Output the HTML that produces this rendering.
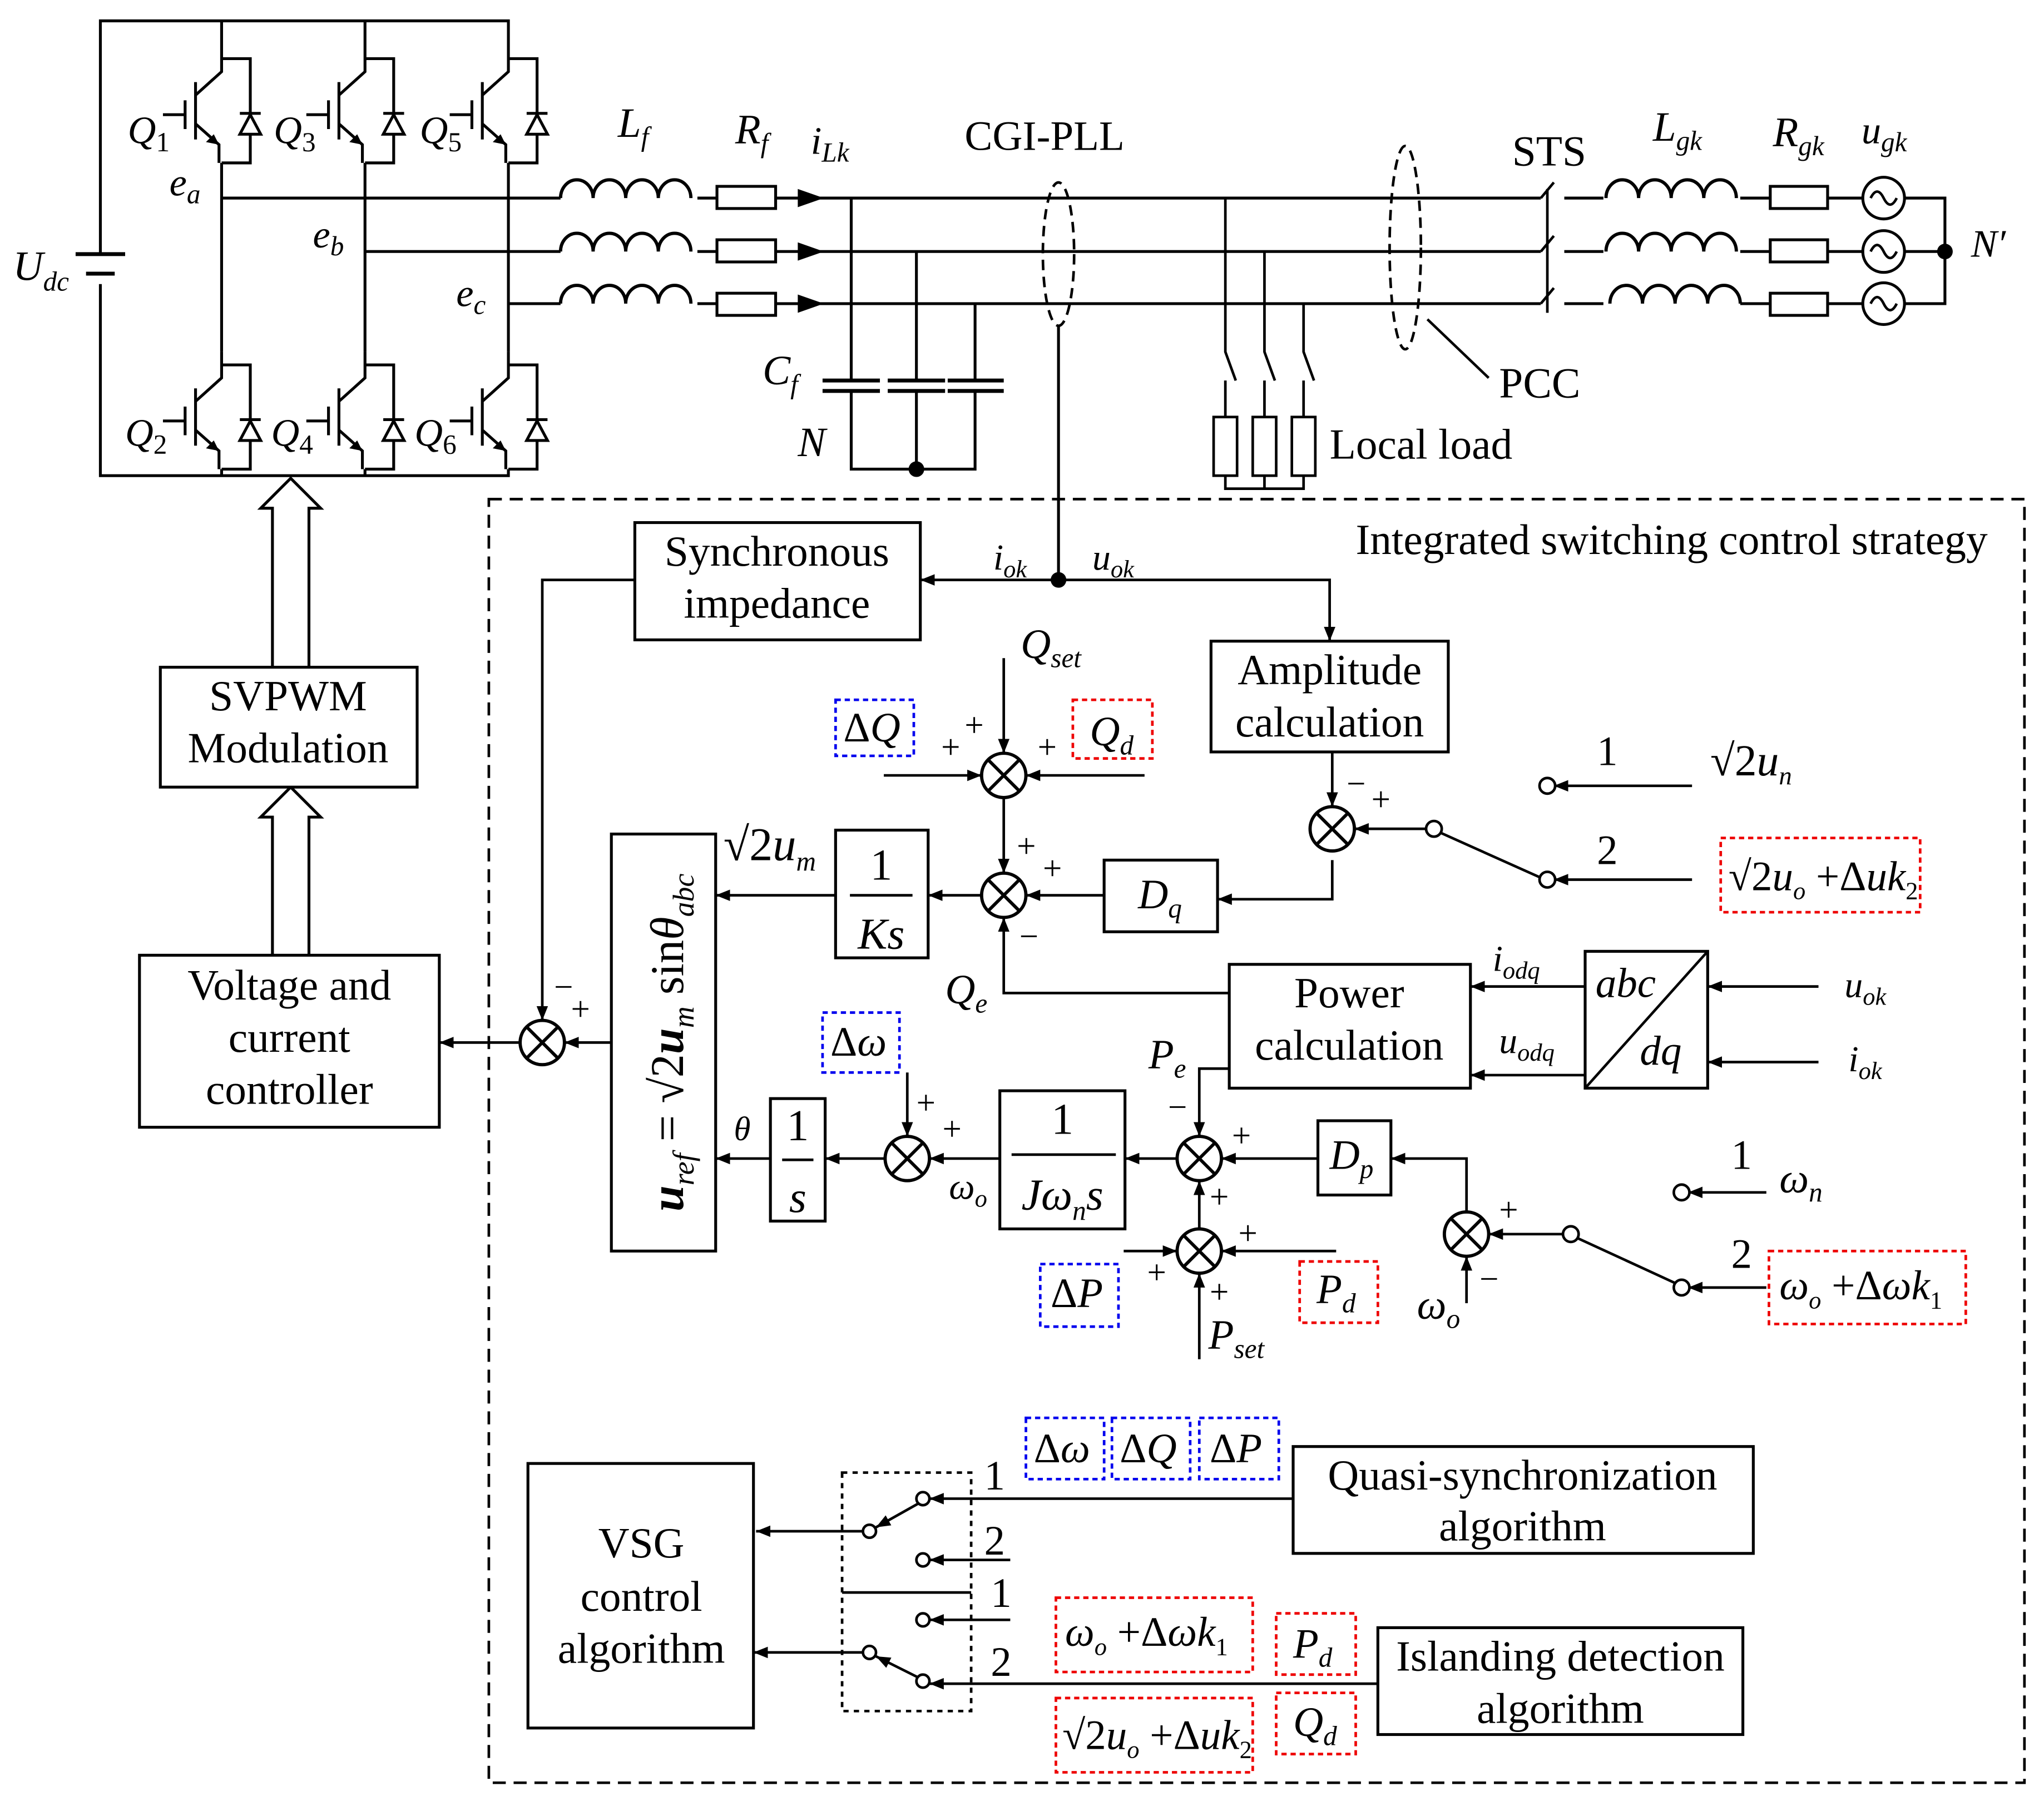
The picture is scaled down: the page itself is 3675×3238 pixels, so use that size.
<!DOCTYPE html>
<html><head><meta charset="utf-8"><style>
html,body{margin:0;padding:0;background:#fff;}
svg{display:block;}
text{font-family:"Liberation Serif",serif;fill:#000;}
.i{font-style:italic;}
</style></head><body>
<svg width="3675" height="3238" viewBox="0 0 1568 1382" preserveAspectRatio="none" xmlns="http://www.w3.org/2000/svg">
<defs>
<marker id="b" viewBox="0 0 10 10" refX="10" refY="5" markerWidth="11" markerHeight="11" orient="auto" markerUnits="userSpaceOnUse"><path d="M0,1 L10,5 L0,9z" fill="#000"/></marker>
<g id="sum"><circle cx="0" cy="0" r="17" fill="#fff" stroke="#000" stroke-width="2.5"/><path d="M-12,-12 L12,12 M-12,12 L12,-12" stroke="#000" stroke-width="2.5"/></g>
<g id="sw" fill="none" stroke="#000" stroke-width="2.2">
<path d="M0,0 V20 L-20,38 M-20,28 V72 M-28,42 V64 M-45,53 H-28 M-20,60 L-2,76 V90 M0,10 H22 V90 H0"/>
<path d="M14,52 H30" /><polygon points="14,68 30,68 22,53" fill="#fff"/>
<polygon points="-2,76 -12,74 -6,68" fill="#000" stroke="none"/>
</g>
<path id="ind" d="M0,0 a12.5,14 0 0 1 25,0 a12.5,14 0 0 1 25,0 a12.5,14 0 0 1 25,0 a12.5,14 0 0 1 25,0" fill="none" stroke="#000" stroke-width="2.5"/>
</defs>
<g fill="none" stroke="#000" stroke-width="2.2">
<path d="M77,195 V16 H390 V35 M170,16 V35 M280,16 V35"/>
<path d="M77,218 V365 H390 V360 M170,365 V360 M280,365 V360"/>
<path d="M58,195 H96 M66,210 H88" stroke-width="3"/>
<path d="M170,125 V270 M280,125 V270 M390,125 V270"/>
</g>
<use href="#sw" x="170" y="35"/><use href="#sw" x="280" y="35"/><use href="#sw" x="390" y="35"/>
<use href="#sw" x="170" y="270"/><use href="#sw" x="280" y="270"/><use href="#sw" x="390" y="270"/>
<text x="10" y="215" font-size="32" class="i">U<tspan font-size="21" dy="8">dc</tspan></text>
<text x="98" y="110" font-size="30" class="i">Q<tspan font-size="21" dy="6" font-style="normal">1</tspan></text>
<text x="210" y="110" font-size="30" class="i">Q<tspan font-size="21" dy="6" font-style="normal">3</tspan></text>
<text x="322" y="110" font-size="30" class="i">Q<tspan font-size="21" dy="6" font-style="normal">5</tspan></text>
<text x="96" y="342" font-size="30" class="i">Q<tspan font-size="21" dy="6" font-style="normal">2</tspan></text>
<text x="208" y="342" font-size="30" class="i">Q<tspan font-size="21" dy="6" font-style="normal">4</tspan></text>
<text x="318" y="342" font-size="30" class="i">Q<tspan font-size="21" dy="6" font-style="normal">6</tspan></text>
<text x="130" y="150" font-size="30" class="i">e<tspan font-size="21" dy="6">a</tspan></text>
<text x="240" y="190" font-size="30" class="i">e<tspan font-size="21" dy="6">b</tspan></text>
<text x="350" y="235" font-size="30" class="i">e<tspan font-size="21" dy="6">c</tspan></text>
<g fill="none" stroke="#000" stroke-width="2.2">
<path d="M170,152 H430 M535,152 H550 M595,152 H1182"/>
<path d="M280,193 H430 M535,193 H550 M595,193 H1182"/>
<path d="M390,233 H430 M535,233 H550 M595,233 H1182"/>
<path d="M1200,152 H1230 M1335,152 H1358 M1402,152 H1429 M1461,152 H1492 V233 H1461"/>
<path d="M1200,193 H1230 M1335,193 H1358 M1402,193 H1429 M1461,193 H1492"/>
<path d="M1200,233 H1230 M1335,233 H1358 M1402,233 H1429"/>
</g>
<use href="#ind" x="430" y="152"/><use href="#ind" x="430" y="193"/><use href="#ind" x="430" y="233"/>
<use href="#ind" x="1232" y="152"/><use href="#ind" x="1232" y="193"/><use href="#ind" x="1235" y="233"/>
<g fill="#fff" stroke="#000" stroke-width="2.2">
<rect x="550" y="143" width="45" height="17"/><rect x="550" y="184" width="45" height="17"/><rect x="550" y="225" width="45" height="17"/>
<rect x="1358" y="143" width="44" height="17"/><rect x="1358" y="184" width="44" height="17"/><rect x="1358" y="225" width="44" height="17"/>
<circle cx="1445" cy="152" r="16"/><circle cx="1445" cy="193" r="16"/><circle cx="1445" cy="233" r="16"/>
</g>
<g fill="none" stroke="#000" stroke-width="2">
<path d="M1435,152 q5,-10 10,0 q5,10 10,0 M1435,193 q5,-10 10,0 q5,10 10,0 M1435,233 q5,-10 10,0 q5,10 10,0"/>
</g>
<g fill="#000"><polygon points="612,145 632,152 612,159"/><polygon points="612,186 632,193 612,200"/><polygon points="612,226 632,233 612,240"/>
<circle cx="1492" cy="193" r="6"/><circle cx="703" cy="360" r="6"/><circle cx="812" cy="445" r="6"/></g>
<g fill="none" stroke="#000" stroke-width="2"><path d="M1182,152 L1192,140 M1182,193 L1192,181 M1182,233 L1192,221 M1187,145 V240"/></g>
<g fill="none" stroke="#000" stroke-width="2.2">
<path d="M653,152 V292 M653,300 V360 H748 V300 M703,193 V292 M703,300 V360 M748,233 V292"/>
<path d="M631,292 H675 M631,300 H675 M681,292 H725 M681,300 H725 M727,292 H770 M727,300 H770" stroke-width="3"/>
</g>
<text x="585" y="295" font-size="32" class="i">C<tspan font-size="21" dy="7">f</tspan></text>
<text x="612" y="350" font-size="32" class="i">N</text>
<ellipse cx="812" cy="195" rx="12" ry="55" fill="none" stroke="#000" stroke-width="2" stroke-dasharray="8,5"/>
<path d="M812,250 V445" stroke="#000" stroke-width="2.2"/>
<text x="740" y="115" font-size="32">CGI-PLL</text>
<g fill="none" stroke="#000" stroke-width="2">
<path d="M940,152 V270 L948,292 M940,292 V320 M940,365 V375 H1000 V365"/>
<path d="M970,193 V270 L978,292 M970,292 V320 M970,365 V375"/>
<path d="M1000,233 V270 L1008,292 M1000,292 V320"/>
<rect x="931" y="320" width="18" height="45" fill="#fff"/><rect x="961" y="320" width="18" height="45" fill="#fff"/><rect x="991" y="320" width="18" height="45" fill="#fff"/>
</g>
<text x="1020" y="352" font-size="33">Local load</text>
<ellipse cx="1078" cy="190" rx="12" ry="78" fill="none" stroke="#000" stroke-width="2" stroke-dasharray="8,5"/>
<path d="M1095,245 L1142,290" stroke="#000" stroke-width="2"/>
<text x="1150" y="305" font-size="33">PCC</text>
<text x="1160" y="127" font-size="33">STS</text>
<text x="474" y="105" font-size="32" class="i">L<tspan font-size="21" dy="7">f</tspan></text>
<text x="564" y="110" font-size="32" class="i">R<tspan font-size="21" dy="7">f</tspan></text>
<text x="622" y="118" font-size="30" class="i">i<tspan font-size="21" dy="6">Lk</tspan></text>
<text x="1268" y="108" font-size="32" class="i">L<tspan font-size="21" dy="7">gk</tspan></text>
<text x="1360" y="112" font-size="32" class="i">R<tspan font-size="21" dy="7">gk</tspan></text>
<text x="1428" y="110" font-size="30" class="i">u<tspan font-size="21" dy="6">gk</tspan></text>
<text x="1512" y="197" font-size="30" class="i">N′</text>
<g fill="#fff" stroke="#000" stroke-width="2.2">
<path d="M209,512 V390 H200 L223,367 L246,390 H237 V512"/>
<path d="M209,733 V627 H200 L223,604 L246,627 H237 V733"/>
</g>
<rect x="375" y="383" width="1178" height="985" fill="none" stroke="#000" stroke-width="2" stroke-dasharray="10,6"/>
<text x="1040" y="425" font-size="33">Integrated switching control strategy</text>
<g fill="#fff" stroke="#000" stroke-width="2.2">
<rect x="123" y="512" width="197" height="92"/>
<rect x="107" y="733" width="230" height="132"/>
<rect x="487" y="401" width="219" height="90"/>
<rect x="929" y="492" width="182" height="85"/>
<rect x="469" y="640" width="80" height="320"/>
<rect x="641" y="637" width="71" height="98"/>
<rect x="847" y="660" width="87" height="55"/>
<rect x="943" y="740" width="185" height="95"/>
<rect x="1216" y="730" width="94" height="105"/>
<rect x="591" y="843" width="42" height="94"/>
<rect x="767" y="837" width="96" height="106"/>
<rect x="1011" y="860" width="56" height="57"/>
<rect x="405" y="1123" width="173" height="203"/>
<rect x="992" y="1110" width="353" height="82"/>
<rect x="1057" y="1249" width="280" height="82"/>
</g>
<path d="M1216,835 L1310,730" stroke="#000" stroke-width="2"/>
<g font-size="33" text-anchor="middle">
<text x="221" y="545">SVPWM</text><text x="221" y="585">Modulation</text>
<text x="222" y="767">Voltage and</text><text x="222" y="807">current</text><text x="222" y="847">controller</text>
<text x="596" y="434">Synchronous</text><text x="596" y="474">impedance</text>
<text x="1020" y="525">Amplitude</text><text x="1020" y="565">calculation</text>
<text x="1035" y="773">Power</text><text x="1035" y="813">calculation</text>
<text x="492" y="1195">VSG</text><text x="492" y="1236">control</text><text x="492" y="1276">algorithm</text>
<text x="1168" y="1143">Quasi-synchronization</text><text x="1168" y="1182">algorithm</text>
<text x="1197" y="1282">Islanding detection</text><text x="1197" y="1322">algorithm</text>
</g>
<text x="1224" y="765" font-size="32" class="i">abc</text>
<text x="1258" y="817" font-size="32" class="i">dq</text>
<g stroke="#000" stroke-width="2"><path d="M652,687 H700 M600,890 H624 M776,886 H856"/></g>
<text x="676" y="675" font-size="34" text-anchor="middle">1</text>
<text x="676" y="728" font-size="34" text-anchor="middle" class="i">Ks</text>
<text x="612" y="875" font-size="34" text-anchor="middle">1</text>
<text x="612" y="930" font-size="34" text-anchor="middle" class="i">s</text>
<text x="815" y="870" font-size="34" text-anchor="middle">1</text>
<text x="815" y="928" font-size="34" text-anchor="middle" class="i">Jω<tspan font-size="21" dy="8">n</tspan><tspan dy="-8">s</tspan></text>
<text x="1020" y="897" font-size="32" class="i">D<tspan font-size="21" dy="7">p</tspan></text>
<text x="873" y="697" font-size="32" class="i">D<tspan font-size="21" dy="7">q</tspan></text>
<text transform="translate(524,800) rotate(-90)" font-size="36" text-anchor="middle"><tspan class="i" font-weight="bold">u</tspan><tspan font-size="23" dy="8" class="i">ref</tspan><tspan dy="-8"> = √2</tspan><tspan class="i" font-weight="bold">u</tspan><tspan font-size="23" dy="8" class="i">m</tspan><tspan dy="-8"> sin</tspan><tspan class="i">θ</tspan><tspan font-size="23" dy="8" class="i">abc</tspan></text>
<use href="#sum" x="416" y="800"/><use href="#sum" x="770" y="595"/><use href="#sum" x="770" y="687"/>
<use href="#sum" x="1022" y="636"/><use href="#sum" x="696" y="889"/><use href="#sum" x="920" y="889"/>
<use href="#sum" x="920" y="960"/><use href="#sum" x="1125" y="947"/>
<g fill="none" stroke="#000" stroke-width="2" marker-end="url(#b)">
<path d="M812,445 H706"/>
<path d="M812,445 H1020 V492"/>
<path d="M487,445 H416 V783"/>
<path d="M469,800 H433"/>
<path d="M399,800 H337"/>
<path d="M641,687 H549"/>
<path d="M753,687 H712"/>
<path d="M770,612 V670"/>
<path d="M770,505 V578"/>
<path d="M678,595 H753"/>
<path d="M878,595 H787"/>
<path d="M847,687 H787"/>
<path d="M1022,660 V690 H934"/>
<path d="M1022,577 V619"/>
<path d="M1100,636 H1039"/>
<path d="M1298,603 H1192"/>
<path d="M1298,675 H1192"/>
<path d="M943,762 H770 V704"/>
<path d="M1216,757 H1128"/>
<path d="M1216,825 H1128"/>
<path d="M1395,757 H1310"/>
<path d="M1395,815 H1310"/>
<path d="M943,820 H920 V872"/>
<path d="M920,943 V906"/>
<path d="M903,889 H863"/>
<path d="M767,889 H713"/>
<path d="M679,889 H633"/>
<path d="M591,889 H549"/>
<path d="M696,823 V872"/>
<path d="M1011,889 H937"/>
<path d="M1125,930 V889 H1067"/>
<path d="M1205,947 H1142"/>
<path d="M1125,1000 V964"/>
<path d="M862,960 H903"/>
<path d="M1025,960 H937"/>
<path d="M920,1043 V977"/>
<path d="M1355,915 H1295"/>
<path d="M1355,988 H1295"/>
<path d="M992,1150 H713"/>
<path d="M775,1197 H713"/>
<path d="M775,1243 H713"/>
<path d="M1057,1292 H713"/>
<path d="M662,1175 H580"/>
<path d="M662,1268 H578"/>
<path d="M704,1154 L672,1172"/>
<path d="M704,1287 L672,1271"/>
</g>
<g fill="none" stroke="#000" stroke-width="2">
<path d="M1105,639 L1183,674 M1210,950 L1286,985"/>
<path d="M646,1222 H745"/>
</g>
<rect x="646" y="1130" width="99" height="183" fill="none" stroke="#000" stroke-width="2" stroke-dasharray="4,4"/>
<g fill="#fff" stroke="#000" stroke-width="2">
<circle cx="1100" cy="636" r="6"/><circle cx="1187" cy="603" r="6"/><circle cx="1187" cy="675" r="6"/>
<circle cx="1205" cy="947" r="6"/><circle cx="1290" cy="915" r="6"/><circle cx="1290" cy="988" r="6"/>
<circle cx="708" cy="1150" r="5"/><circle cx="667" cy="1175" r="5"/><circle cx="708" cy="1197" r="5"/>
<circle cx="708" cy="1243" r="5"/><circle cx="708" cy="1290" r="5"/><circle cx="667" cy="1268" r="5"/>
</g>
<g fill="none" stroke-width="2" stroke-dasharray="4,3">
<rect x="641" y="537" width="60" height="43" stroke="#0000ee"/>
<rect x="823" y="537" width="61" height="45" stroke="#ee0000"/>
<rect x="1320" y="643" width="153" height="57" stroke="#ee0000"/>
<rect x="631" y="777" width="59" height="46" stroke="#0000ee"/>
<rect x="798" y="970" width="60" height="48" stroke="#0000ee"/>
<rect x="997" y="968" width="60" height="47" stroke="#ee0000"/>
<rect x="1357" y="960" width="151" height="56" stroke="#ee0000"/>
<rect x="787" y="1088" width="60" height="47" stroke="#0000ee"/>
<rect x="853" y="1088" width="60" height="47" stroke="#0000ee"/>
<rect x="920" y="1088" width="61" height="47" stroke="#0000ee"/>
<rect x="810" y="1226" width="151" height="57" stroke="#ee0000"/>
<rect x="979" y="1238" width="61" height="47" stroke="#ee0000"/>
<rect x="810" y="1303" width="151" height="57" stroke="#ee0000"/>
<rect x="979" y="1299" width="61" height="47" stroke="#ee0000"/>
</g>
<g font-size="32">
<text x="647" y="569">Δ<tspan class="i">Q</tspan></text>
<text x="836" y="572" class="i">Q<tspan font-size="21" dy="7">d</tspan></text>
<text x="1326" y="683">√2<tspan class="i">u</tspan><tspan font-size="19" dy="7" class="i">o</tspan><tspan dy="-7"> +Δ</tspan><tspan class="i">uk</tspan><tspan font-size="19" dy="7">2</tspan></text>
<text x="1312" y="595" font-size="34">√2<tspan class="i">u</tspan><tspan font-size="20" dy="7" class="i">n</tspan></text>
<text x="1225" y="587">1</text><text x="1225" y="663">2</text>
<text x="637" y="810">Δ<tspan class="i">ω</tspan></text>
<text x="806" y="1003">Δ<tspan class="i">P</tspan></text>
<text x="1010" y="1000" class="i">P<tspan font-size="21" dy="7">d</tspan></text>
<text x="1365" y="997"><tspan class="i">ω</tspan><tspan font-size="19" dy="7" class="i">o</tspan><tspan dy="-7"> +Δ</tspan><tspan class="i">ωk</tspan><tspan font-size="19" dy="7">1</tspan></text>
<text x="1328" y="897">1</text><text x="1328" y="973">2</text>
<text x="1365" y="915" class="i">ω<tspan font-size="21" dy="7">n</tspan></text>
<text x="793" y="1122">Δ<tspan class="i">ω</tspan></text>
<text x="859" y="1122">Δ<tspan class="i">Q</tspan></text>
<text x="928" y="1122">Δ<tspan class="i">P</tspan></text>
<text x="817" y="1263"><tspan class="i">ω</tspan><tspan font-size="19" dy="7" class="i">o</tspan><tspan dy="-7"> +Δ</tspan><tspan class="i">ωk</tspan><tspan font-size="19" dy="7">1</tspan></text>
<text x="992" y="1272" class="i">P<tspan font-size="21" dy="7">d</tspan></text>
<text x="815" y="1342">√2<tspan class="i">u</tspan><tspan font-size="19" dy="7" class="i">o</tspan><tspan dy="-7"> +Δ</tspan><tspan class="i">uk</tspan><tspan font-size="19" dy="7">2</tspan></text>
<text x="992" y="1332" class="i">Q<tspan font-size="21" dy="7">d</tspan></text>
<text x="755" y="1143">1</text><text x="755" y="1193">2</text><text x="760" y="1233">1</text><text x="760" y="1286">2</text>
<text x="555" y="660" font-size="36">√2<tspan class="i">u</tspan><tspan font-size="21" dy="8" class="i">m</tspan></text>
<text x="783" y="505" class="i">Q<tspan font-size="21" dy="7">set</tspan></text>
<text x="725" y="770" class="i">Q<tspan font-size="21" dy="7">e</tspan></text>
<text x="881" y="820" class="i">P<tspan font-size="21" dy="7">e</tspan></text>
<text x="927" y="1035" class="i">P<tspan font-size="21" dy="7">set</tspan></text>
<text x="1087" y="1012" class="i">ω<tspan font-size="21" dy="7">o</tspan></text>
<text x="728" y="920" font-size="28" class="i">ω<tspan font-size="19" dy="6">o</tspan></text>
<text x="563" y="875" font-size="26" class="i">θ</text>
<text x="762" y="437" font-size="28" class="i">i<tspan font-size="19" dy="6">ok</tspan></text>
<text x="838" y="437" font-size="28" class="i">u<tspan font-size="19" dy="6">ok</tspan></text>
<text x="1145" y="745" font-size="28" class="i">i<tspan font-size="19" dy="6">odq</tspan></text>
<text x="1150" y="808" font-size="28" class="i">u<tspan font-size="19" dy="6">odq</tspan></text>
<text x="1415" y="765" font-size="28" class="i">u<tspan font-size="19" dy="6">ok</tspan></text>
<text x="1418" y="822" font-size="28" class="i">i<tspan font-size="19" dy="6">ok</tspan></text>
</g>
<g font-size="26">
<text x="740" y="565">+</text><text x="722" y="582">+</text><text x="796" y="582">+</text>
<text x="780" y="658">+</text><text x="800" y="675">+</text><text x="782" y="727">−</text>
<text x="1033" y="610">−</text><text x="1052" y="622">+</text>
<text x="425" y="766">−</text><text x="438" y="783">+</text>
<text x="703" y="855">+</text><text x="723" y="875">+</text>
<text x="896" y="858">−</text><text x="945" y="880">+</text><text x="928" y="927">+</text>
<text x="950" y="955">+</text><text x="880" y="985">+</text><text x="928" y="1000">+</text>
<text x="1150" y="937">+</text><text x="1135" y="990">−</text>
</g>
</svg>
</body></html>
